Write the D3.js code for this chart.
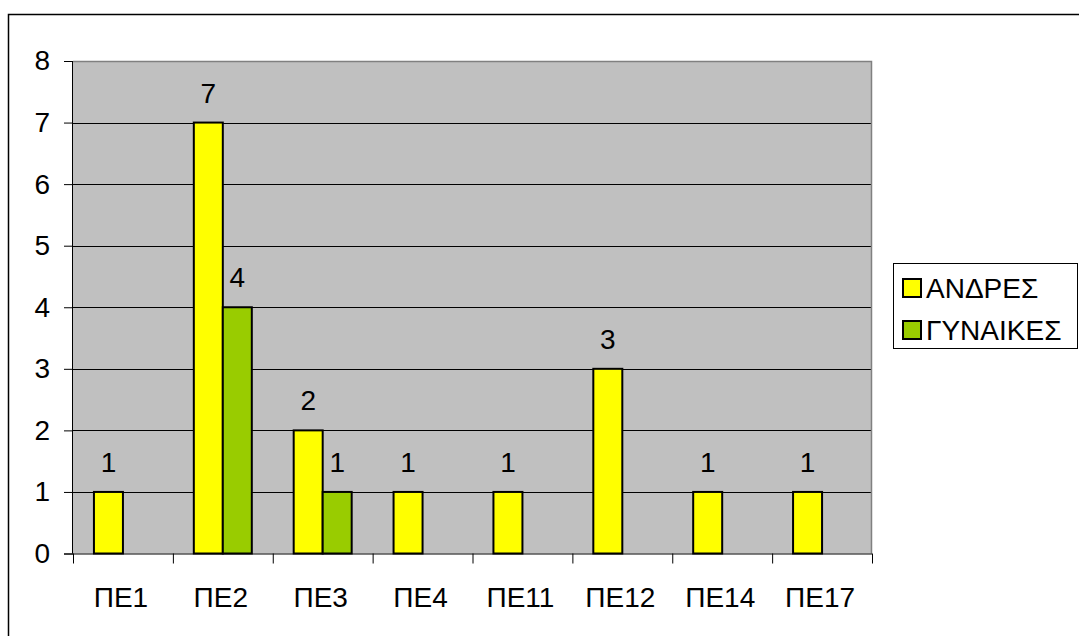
<!DOCTYPE html>
<html><head><meta charset="utf-8">
<script src="https://cdn.jsdelivr.net/npm/d3@7"></script>
<style>body{margin:0;background:#fff}svg{display:block}text{font-family:"Liberation Sans",Arial,sans-serif}</style>
</head><body>
<svg id="c" width="1079" height="636"></svg>
<script>
const categories = ["ΠΕ1","ΠΕ2","ΠΕ3","ΠΕ4","ΠΕ11","ΠΕ12","ΠΕ14","ΠΕ17"];
const seriesNames = ["ΑΝΔΡΕΣ","ΓΥΝΑΙΚΕΣ"];
const andres = [1,7,2,1,1,3,1,1];
const gynaikes = [null,4,1,null,null,null,null,null];
const yTicks = [0,1,2,3,4,5,6,7,8];
const colors = ["#ffff00","#99cc00"];

const FS = 28;
const svg = d3.select("#c");
const L = 73, R = 872, T = 61, B = 553.5;
svg.append("path").attr("d","M8.5,636V14.5H1079").attr("fill","none").attr("stroke","#000").attr("stroke-width",1.5);

const x = d3.scaleBand().domain(categories).range([L,R]);
const y = d3.scaleLinear().domain([0,8]).range([B,T]);
const barW = 29;

svg.append("rect").attr("x",L).attr("y",T).attr("width",R-L).attr("height",B-T).attr("fill","#c0c0c0");
svg.append("g").selectAll("line").data(yTicks.filter(d=>d>0&&d<8)).join("line")
  .attr("x1",L).attr("x2",R).attr("y1",d=>Math.round(y(d))+0.5).attr("y2",d=>Math.round(y(d))+0.5)
  .attr("stroke","#000").attr("stroke-width",1);
svg.append("path").attr("d",`M${L},${Math.round(T)+0.5}H${R-0.5}V${B}`).attr("fill","none").attr("stroke","#808080").attr("stroke-width",1.5);

const data = [andres, gynaikes];
data.forEach((vals,si)=>{
  const g = svg.append("g");
  const items = vals.map((v,i)=>({v,c:categories[i]})).filter(d=>d.v!=null);
  g.selectAll("rect").data(items).join("rect")
    .attr("x",d=>x(d.c)+x.bandwidth()/2 - barW + si*barW)
    .attr("y",d=>y(d.v)).attr("width",barW).attr("height",d=>B-y(d.v))
    .attr("fill",colors[si]).attr("stroke","#000").attr("stroke-width",2);
  g.selectAll("text").data(items).join("text")
    .attr("x",d=>x(d.c)+x.bandwidth()/2 - barW/2 + si*barW)
    .attr("y",d=>y(d.v)-20).attr("text-anchor","middle").attr("font-size",FS).attr("fill","#000")
    .text(d=>d.v);
});

const ya = svg.append("g").attr("transform",`translate(${L},0)`)
  .call(d3.axisLeft(y).tickValues(yTicks).tickSize(9).tickPadding(14).tickFormat(d3.format("d")));
ya.select(".domain").attr("stroke","#000").attr("d",`M-0.5,${T}V${B}`);
ya.selectAll(".tick line").attr("stroke","#000");
ya.selectAll("text").attr("font-size",FS).attr("font-family","Liberation Sans, Arial, sans-serif").attr("fill","#000");

const xa = svg.append("g").attr("transform",`translate(0,${B})`);
xa.append("line").attr("x1",L-9).attr("x2",R).attr("y1",0.5).attr("y2",0.5).attr("stroke","#000");
xa.selectAll("line.t").data(categories.concat(["_end"])).join("line").attr("class","t")
  .attr("x1",(d,i)=>L+i*x.step()+0.5).attr("x2",(d,i)=>L+i*x.step()+0.5).attr("y1",0).attr("y2",10).attr("stroke","#000");
xa.selectAll("text").data(categories).join("text")
  .attr("x",d=>x(d)+x.bandwidth()/2-2).attr("y",53).attr("text-anchor","middle").attr("font-size",FS).attr("fill","#000").text(d=>d);

const lg = svg.append("g");
lg.append("rect").attr("x",893.5).attr("y",263.5).attr("width",184).attr("height",85).attr("fill","#fff").attr("stroke","#000").attr("stroke-width",1);
seriesNames.forEach((n,i)=>{
  const cy = 288 + i*42;
  lg.append("rect").attr("x",903).attr("y",cy-9).attr("width",18).attr("height",18).attr("fill",colors[i]).attr("stroke","#000").attr("stroke-width",2);
  lg.append("text").attr("x",926).attr("y",cy+9.5).attr("font-size",FS).attr("fill","#000").text(n);
});
</script>
</body></html>
